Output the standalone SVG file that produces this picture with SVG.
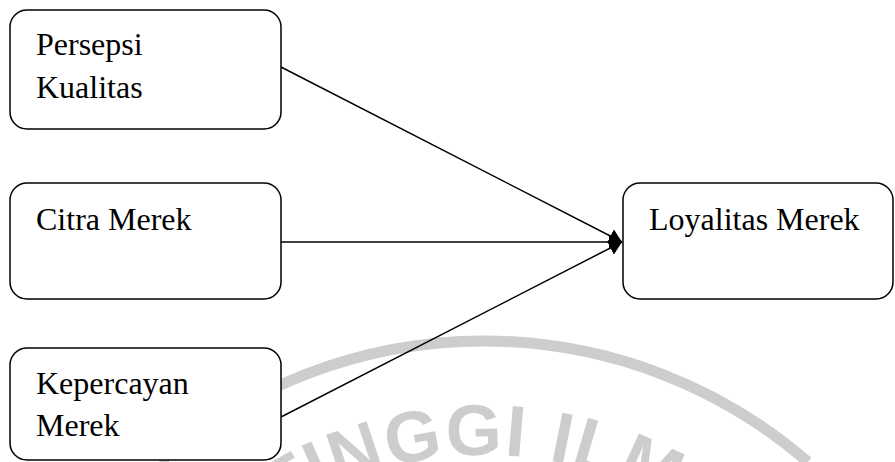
<svg xmlns="http://www.w3.org/2000/svg" width="895" height="462" viewBox="0 0 895 462">
  <style>
    .box { fill: #ffffff; stroke: #000000; stroke-width: 1.5; }
    .lbl { font-family: "Liberation Serif", "Times New Roman", serif; font-size: 32px; fill: #000000; }
    .conn { stroke: #000000; stroke-width: 1.5; fill: none; marker-end: url(#arrow); }
    .wm { fill: none; stroke: #cdcdcd; stroke-width: 11; }
    .wmtext { font-family: "Liberation Sans", Arial, sans-serif; font-weight: bold; font-size: 72px; letter-spacing: 2px; fill: #cdcdcd; }
  </style>
  <defs>
    <marker id="arrow" markerUnits="userSpaceOnUse" viewBox="0 0 13 15" refX="13" refY="7.5" markerWidth="13" markerHeight="15" orient="auto">
      <path d="M0,0 L13,7.5 L0,15 Z" fill="#000000"/>
    </marker>
    <path id="wmArc" d="M154.9,645 A380,380 0 0 1 813.1,645"/>
  </defs>
  <rect width="895" height="462" fill="#ffffff"/>

  <g id="watermark">
    <path class="wm" d="M160.1,462 A494,494 0 0 1 807.9,462"/>
    <text class="wmtext" text-anchor="middle"><textPath href="#wmArc" startOffset="413">TINGGI ILMU</textPath></text>
  </g>

  <g id="connectors">
    <line class="conn" x1="281" y1="67" x2="622" y2="242"/>
    <line class="conn" x1="281" y1="242" x2="622" y2="242"/>
    <line class="conn" x1="281" y1="417" x2="622" y2="242"/>
  </g>

  <g id="persepsi-kualitas">
    <rect class="box" x="10" y="10" width="271" height="119" rx="17" ry="17"/>
    <text class="lbl" x="36" y="55">Persepsi</text>
    <text class="lbl" x="36" y="98">Kualitas</text>
  </g>

  <g id="citra-merek">
    <rect class="box" x="10" y="183" width="271" height="116" rx="17" ry="17"/>
    <text class="lbl" x="36" y="230">Citra Merek</text>
  </g>

  <g id="kepercayan-merek">
    <rect class="box" x="10" y="348" width="271" height="112" rx="17" ry="17"/>
    <text class="lbl" x="36" y="394">Kepercayan</text>
    <text class="lbl" x="36" y="436">Merek</text>
  </g>

  <g id="loyalitas-merek">
    <rect class="box" x="623" y="183" width="270" height="116" rx="17" ry="17"/>
    <text class="lbl" x="649" y="230">Loyalitas Merek</text>
  </g>
</svg>
